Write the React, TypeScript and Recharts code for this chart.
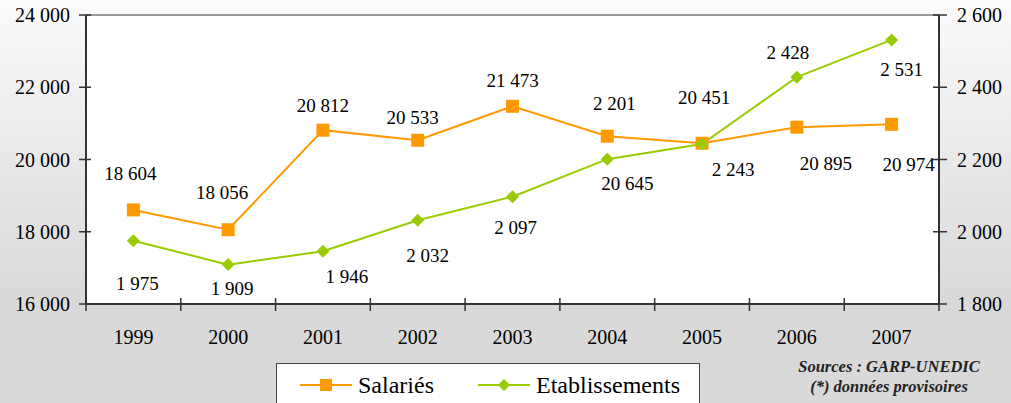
import React from "react";
import {
  LineChart,
  Line,
  XAxis,
  YAxis,
  CartesianGrid,
  ReferenceLine,
  LabelList,
} from "recharts";

const years = ["1999", "2000", "2001", "2002", "2003", "2004", "2005", "2006", "2007"];
const salaries = [18604, 18056, 20812, 20533, 21473, 20645, 20451, 20895, 20974];
const etablissements = [1975, 1909, 1946, 2032, 2097, 2201, 2243, 2428, 2531];
// labels as printed on the source chart (2004 labels are swapped there)
const salariesLabels = ["18 604", "18 056", "20 812", "20 533", "21 473", "2 201", "20 451", "20 895", "20 974"];
const etabLabels = ["1 975", "1 909", "1 946", "2 032", "2 097", "20 645", "2 243", "2 428", "2 531"];
const leftTicks = [16000, 18000, 20000, 22000, 24000];
const rightTicks = [1800, 2000, 2200, 2400, 2600];

const W = 1011;
const H = 403;
const PLOT_LEFT = 86;
const PLOT_RIGHT = 939;
const PLOT_TOP = 15;
const PLOT_BOTTOM = 304;
const BAND = (PLOT_RIGHT - PLOT_LEFT) / years.length;

const ORANGE = "#ff9900";
const GREEN = "#99cc00";
const FONT = '"Liberation Serif", "Times New Roman", serif';

// label offsets from each point (text centre), per series
const sOffsets = [[-3, -36], [-6, -37], [0, -25], [-5, -23], [0, -26], [7, -33], [2, -46], [29, 36], [17, 40]];
const eOffsets = [[4, 43], [4, 24], [24, 25], [10, 35], [3, 31], [20, 24], [31, 26], [-9, -25], [10, 30]];

const data = years.map((year, i) => ({
  year,
  salaries: salaries[i],
  etablissements: etablissements[i],
  sLabel: salariesLabels[i],
  eLabel: etabLabels[i],
}));

const fmt = (n: number) => String(n).replace(/\B(?=(\d{3})+(?!\d))/g, " ");

const LeftTick = ({ x, y, payload }: any) => {
  const ax = x + 16;
  return (
    <g>
      <line x1={ax - 7} x2={ax + 5} y1={y} y2={y} stroke="#333" strokeWidth={1.5} />
      <text x={x} y={y} textAnchor="end" dominantBaseline="central" fontSize={20} fontFamily={FONT} fill="#000">
        {fmt(payload.value)}
      </text>
    </g>
  );
};

const RightTick = ({ x, y, payload }: any) => {
  const ax = x - 18;
  return (
    <g>
      <line x1={ax - 6} x2={ax + 8} y1={y} y2={y} stroke="#333" strokeWidth={1.5} />
      <text x={x} y={y} textAnchor="start" dominantBaseline="central" fontSize={20} fontFamily={FONT} fill="#000">
        {fmt(payload.value)}
      </text>
    </g>
  );
};

const YearTick = ({ x, y, payload, index }: any) => {
  const left = x - BAND / 2;
  const right = x + BAND / 2;
  return (
    <g>
      <line x1={left} x2={left} y1={y - 6} y2={y + 7} stroke="#333" strokeWidth={1.5} />
      {index === years.length - 1 && (
        <line x1={right} x2={right} y1={y - 6} y2={y + 7} stroke="#333" strokeWidth={1.5} />
      )}
      <text x={x} y={y + 33} textAnchor="middle" dominantBaseline="central" fontSize={20} fontFamily={FONT} fill="#000">
        {payload.value}
      </text>
    </g>
  );
};

const makeLabel = (offsets: number[][]) => (props: any) => {
  const { index, value } = props;
  const px = props.x ?? (props.viewBox ? props.viewBox.x + (props.viewBox.width || 0) / 2 : 0);
  const py = props.y ?? (props.viewBox ? props.viewBox.y + (props.viewBox.height || 0) / 2 : 0);
  const [dx, dy] = offsets[index] || [0, 0];
  return (
    <text
      key={`l-${index}`}
      x={px + dx}
      y={py + dy}
      textAnchor="middle"
      dominantBaseline="central"
      fontSize={19}
      fontFamily={FONT}
      fill="#000"
    >
      {value}
    </text>
  );
};

const SquareDot = ({ cx, cy, index }: any) => (
  <rect key={`s-${index}`} x={cx - 6.5} y={cy - 6.5} width={13} height={13} fill={ORANGE} />
);

const DiamondDot = ({ cx, cy, index }: any) => (
  <polygon
    key={`d-${index}`}
    points={`${cx},${cy - 6.5} ${cx + 6.5},${cy} ${cx},${cy + 6.5} ${cx - 6.5},${cy}`}
    fill={GREEN}
  />
);

const series = [
  { name: "Salariés", color: ORANGE, marker: "square" },
  { name: "Etablissements", color: GREEN, marker: "diamond" },
];

const LegendBox = () => (
  <div
    style={{
      position: "absolute",
      left: 276,
      top: 363,
      width: 424,
      height: 50,
      background: "#fff",
      border: "1px solid #444",
      boxSizing: "border-box",
    }}
  >
    {series.map((s, i) => (
      <div
        key={s.name}
        style={{
          position: "absolute",
          left: i === 0 ? 23 : 201,
          top: 6,
          display: "flex",
          alignItems: "center",
          fontFamily: FONT,
          fontSize: 24,
          lineHeight: "30px",
          color: "#000",
        }}
      >
        <svg width={52} height={16} style={{ marginRight: 6 }}>
          <line x1={0} x2={52} y1={8} y2={8} stroke={s.color} strokeWidth={2} />
          {s.marker === "square" ? (
            <rect x={20} y={2} width={12} height={12} fill={s.color} />
          ) : (
            <polygon points="26,2 32,8 26,14 20,8" fill={s.color} />
          )}
        </svg>
        {s.name}
      </div>
    ))}
  </div>
);

export default function App() {
  return (
    <div
      style={{
        position: "absolute",
        left: 0,
        top: 0,
        width: W,
        height: H,
        overflow: "hidden",
        background: "linear-gradient(180deg, #fbfbfb 0%, #e6e6e6 45%, #d9d9d9 75%, #d9d9d9 100%)",
      }}
    >
      <LineChart width={W} height={H} data={data} margin={{ top: PLOT_TOP, right: 0, bottom: 0, left: 0 }}>
        <CartesianGrid yAxisId="left" fill="#fff" horizontal={false} vertical={false} />
        <XAxis
          dataKey="year"
          height={H - PLOT_BOTTOM}
          padding={{ left: BAND / 2, right: BAND / 2 }}
          interval={0}
          tickSize={0}
          tickMargin={0}
          tickLine={false}
          axisLine={{ stroke: "#333", strokeWidth: 2 }}
          tick={<YearTick />}
        />
        <YAxis
          yAxisId="left"
          orientation="left"
          width={PLOT_LEFT}
          domain={[16000, 24000]}
          ticks={leftTicks}
          interval={0}
          tickSize={0}
          tickMargin={16}
          tickLine={false}
          axisLine={{ stroke: "#333", strokeWidth: 2 }}
          tick={<LeftTick />}
        />
        <YAxis
          yAxisId="right"
          orientation="right"
          width={W - PLOT_RIGHT}
          domain={[1800, 2600]}
          ticks={rightTicks}
          interval={0}
          tickSize={0}
          tickMargin={18}
          tickLine={false}
          axisLine={{ stroke: "#333", strokeWidth: 2 }}
          tick={<RightTick />}
        />
        <ReferenceLine yAxisId="left" y={24000} stroke="#999" strokeWidth={2} />
        <Line
          yAxisId="left"
          dataKey="salaries"
          name="Salariés"
          stroke={ORANGE}
          strokeWidth={2}
          dot={SquareDot}
          activeDot={false}
          isAnimationActive={false}
        >
          <LabelList dataKey="sLabel" content={makeLabel(sOffsets)} />
        </Line>
        <Line
          yAxisId="right"
          dataKey="etablissements"
          name="Etablissements"
          stroke={GREEN}
          strokeWidth={2}
          dot={DiamondDot}
          activeDot={false}
          isAnimationActive={false}
        >
          <LabelList dataKey="eLabel" content={makeLabel(eOffsets)} />
        </Line>
      </LineChart>
      <LegendBox />
      <div
        style={{
          position: "absolute",
          left: 789,
          top: 357,
          width: 200,
          textAlign: "center",
          fontFamily: FONT,
          fontSize: 16.5,
          fontWeight: "bold",
          fontStyle: "italic",
          lineHeight: "20px",
          color: "#222",
        }}
      >
        <div>Sources : GARP-UNEDIC</div>
        <div>(*) données provisoires</div>
      </div>
    </div>
  );
}
